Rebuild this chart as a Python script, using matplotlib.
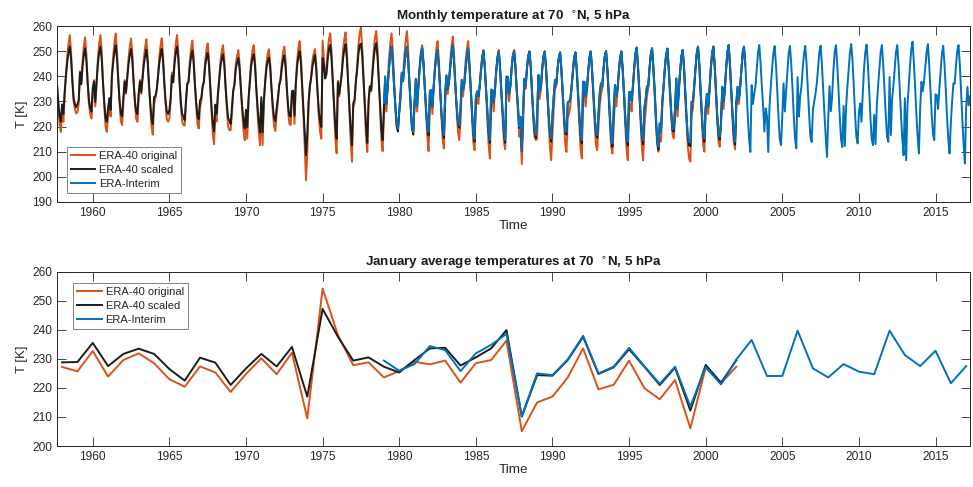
import numpy as np
import matplotlib
matplotlib.use("Agg")
import matplotlib.pyplot as plt

plt.rcParams['font.family'] = ['Liberation Sans', 'DejaVu Sans']

# ---------------- data ----------------
# ERA-40 original, monthly, Sep 1957 .. Aug 2002 (one row per year)
era40_orig_start = (1957, 9)
era40_orig = [
    [237.2, 228.0, 221.0, 217.9],
    [227.2, 221.9, 233.0, 241.0, 248.0, 253.0, 256.4, 250.0, 239.0, 230.0, 227.0, 225.2],
    [225.7, 229.0, 242.0, 237.0, 246.0, 252.0, 255.5, 249.0, 238.0, 229.0, 225.0, 223.2],
    [232.7, 238.5, 228.0, 238.0, 247.0, 253.0, 256.4, 250.0, 238.0, 228.0, 220.0, 217.9],
    [223.9, 230.0, 224.0, 241.0, 248.0, 253.5, 257.0, 250.0, 239.0, 229.0, 222.0, 220.6],
    [229.6, 238.5, 233.0, 240.0, 247.0, 252.0, 255.1, 249.0, 238.0, 229.0, 223.0, 221.9],
    [231.9, 238.5, 233.0, 240.0, 247.0, 251.5, 254.7, 248.0, 237.0, 228.0, 220.0, 216.8],
    [228.5, 231.0, 234.0, 240.0, 247.0, 252.0, 255.1, 249.0, 238.0, 229.0, 223.0, 221.9],
    [223.0, 230.0, 241.5, 238.0, 247.0, 253.0, 256.4, 250.0, 238.0, 228.0, 222.0, 220.6],
    [220.4, 229.0, 237.2, 238.0, 246.0, 251.0, 254.2, 248.0, 237.0, 228.0, 221.0, 219.2],
    [227.4, 230.0, 235.8, 238.0, 246.0, 250.5, 253.1, 247.0, 236.0, 226.0, 217.0, 213.0],
    [225.3, 222.0, 232.0, 239.0, 246.0, 250.0, 252.4, 247.0, 236.0, 227.0, 220.0, 218.6],
    [218.6, 225.2, 233.8, 237.0, 245.0, 248.0, 250.4, 245.0, 235.0, 226.0, 219.0, 214.6],
    [224.8, 215.2, 230.0, 238.0, 246.0, 250.0, 252.4, 247.0, 236.0, 226.0, 218.0, 212.6],
    [230.2, 212.6, 229.0, 238.0, 245.0, 249.0, 250.8, 245.0, 235.0, 226.0, 220.0, 218.2],
    [224.7, 230.0, 236.5, 239.0, 245.0, 249.5, 251.8, 246.0, 235.0, 226.0, 221.0, 220.6],
    [232.1, 233.8, 221.0, 237.0, 246.0, 251.0, 254.0, 248.0, 236.0, 224.0, 212.0, 198.6],
    [209.5, 228.0, 236.0, 240.0, 246.0, 249.0, 250.8, 245.0, 234.0, 224.0, 218.0, 215.2],
    [254.2, 247.0, 240.0, 242.0, 250.0, 255.0, 257.1, 250.0, 238.0, 226.0, 215.0, 209.3],
    [238.2, 232.0, 237.0, 242.0, 250.0, 255.0, 257.5, 250.0, 238.0, 226.0, 214.0, 206.0],
    [227.8, 229.2, 237.8, 244.0, 252.0, 257.0, 259.4, 252.0, 240.0, 227.0, 216.0, 209.9],
    [228.8, 236.0, 234.0, 242.0, 250.0, 255.5, 258.0, 251.0, 239.0, 226.0, 215.0, 210.2],
    [223.6, 236.0, 226.0, 238.0, 247.0, 253.0, 257.1, 250.0, 238.0, 227.0, 220.0, 218.5],
    [225.8, 230.0, 240.0, 240.0, 248.0, 254.0, 258.0, 251.0, 238.0, 227.0, 219.0, 217.9],
    [229.0, 237.0, 226.0, 237.0, 244.0, 250.0, 252.4, 246.0, 236.0, 226.0, 216.0, 210.2],
    [228.1, 232.0, 225.0, 236.0, 244.0, 250.5, 254.0, 247.0, 236.0, 225.0, 215.0, 211.3],
    [229.4, 238.0, 233.0, 238.0, 246.0, 252.0, 255.8, 248.0, 237.0, 226.0, 218.0, 214.6],
    [221.8, 236.0, 232.0, 238.0, 246.0, 251.0, 254.0, 246.0, 235.0, 224.0, 214.0, 210.6],
    [228.5, 231.0, 229.0, 236.0, 243.0, 248.0, 250.5, 244.0, 234.0, 223.0, 213.0, 207.3],
    [229.6, 231.0, 226.0, 235.0, 243.0, 248.0, 250.5, 243.0, 233.0, 223.0, 214.0, 211.0],
    [236.3, 237.0, 230.0, 236.0, 243.0, 248.5, 250.5, 244.0, 234.0, 225.0, 216.0, 218.0],
    [205.1, 221.0, 236.0, 235.0, 243.0, 248.0, 250.0, 243.0, 233.0, 223.0, 216.0, 214.6],
    [215.0, 236.0, 231.0, 235.0, 243.0, 248.0, 250.0, 243.0, 232.0, 222.0, 212.0, 206.6],
    [217.0, 227.0, 235.0, 236.0, 243.0, 247.5, 249.5, 242.0, 232.0, 222.0, 213.0, 209.9],
    [223.6, 225.0, 228.0, 235.0, 242.0, 247.5, 249.5, 242.0, 232.0, 221.0, 211.0, 207.3],
    [233.6, 233.0, 228.0, 234.0, 242.0, 247.5, 250.0, 242.0, 232.0, 222.0, 213.0, 210.6],
    [219.5, 228.0, 233.0, 235.0, 243.0, 248.0, 250.0, 242.0, 232.0, 221.0, 212.0, 209.3],
    [221.1, 231.0, 228.0, 234.0, 242.0, 247.5, 250.0, 242.0, 232.0, 221.0, 211.0, 206.6],
    [229.4, 229.0, 226.0, 235.0, 243.0, 249.0, 251.4, 243.0, 233.0, 222.0, 212.0, 206.6],
    [219.9, 226.0, 232.0, 235.0, 243.0, 248.5, 251.1, 243.0, 233.0, 222.0, 213.0, 210.0],
    [216.1, 214.0, 227.0, 235.0, 243.0, 248.5, 251.0, 243.0, 233.0, 224.0, 217.0, 215.3],
    [222.7, 236.0, 224.0, 234.0, 242.0, 248.0, 250.4, 243.0, 232.0, 222.0, 212.0, 207.3],
    [206.1, 225.0, 227.0, 235.0, 243.0, 249.0, 251.8, 244.0, 233.0, 223.0, 213.0, 210.0],
    [227.0, 230.0, 225.0, 234.0, 243.0, 249.0, 251.8, 244.0, 233.0, 223.0, 214.0, 212.0],
    [221.6, 233.0, 227.0, 234.0, 243.0, 249.5, 252.4, 244.0, 233.0, 223.0, 214.0, 211.0],
    [227.3, 233.0, 229.0, 235.0, 243.0, 249.0, 251.0, 244.0],
]

# ERA-40 scaled, monthly, Sep 1957 .. Aug 2002
era40_scaled_start = (1957, 9)
era40_scaled = [
    [236.9, 229.8, 224.3, 221.9],
    [228.8, 225.0, 233.7, 239.9, 245.4, 249.3, 251.9, 246.9, 238.3, 231.3, 229.0, 227.6],
    [228.9, 230.5, 241.5, 236.8, 243.8, 248.5, 251.2, 246.1, 237.6, 230.5, 227.4, 226.0],
    [235.5, 237.9, 229.8, 237.6, 244.6, 249.3, 251.9, 246.9, 237.6, 229.8, 223.5, 221.9],
    [227.5, 231.3, 226.6, 239.9, 245.4, 249.7, 252.4, 246.9, 238.3, 230.5, 225.1, 224.0],
    [231.7, 237.9, 233.7, 239.1, 244.6, 248.5, 250.9, 246.1, 237.6, 230.5, 225.9, 225.0],
    [233.5, 237.9, 233.7, 239.1, 244.6, 248.1, 250.6, 245.4, 236.8, 229.8, 223.5, 221.0],
    [231.7, 232.1, 234.4, 239.1, 244.6, 248.5, 250.9, 246.1, 237.6, 230.5, 225.9, 225.0],
    [226.5, 231.3, 240.3, 237.6, 244.6, 249.3, 251.9, 246.9, 237.6, 229.8, 225.1, 224.0],
    [222.5, 230.5, 236.9, 237.6, 243.8, 247.7, 250.2, 245.4, 236.8, 229.8, 224.3, 222.9],
    [230.4, 231.3, 235.8, 237.6, 243.8, 247.3, 249.3, 244.6, 236.0, 228.2, 221.2, 218.1],
    [228.7, 225.1, 232.9, 238.3, 243.8, 246.9, 248.8, 244.6, 236.0, 229.0, 223.5, 222.4],
    [221.0, 227.6, 234.3, 236.8, 243.0, 245.4, 247.2, 243.0, 235.2, 228.2, 222.7, 219.3],
    [226.7, 219.8, 231.3, 237.6, 243.8, 246.9, 248.8, 244.6, 236.0, 228.2, 222.0, 217.7],
    [231.7, 217.7, 230.5, 237.6, 243.0, 246.1, 247.5, 243.0, 235.2, 228.2, 223.5, 222.1],
    [227.4, 231.3, 236.4, 238.3, 243.0, 246.5, 248.3, 243.8, 235.2, 228.2, 224.3, 224.0],
    [234.1, 234.3, 224.3, 236.8, 243.8, 247.7, 250.0, 245.4, 236.0, 226.6, 217.3, 208.6],
    [217.0, 229.8, 236.0, 239.1, 243.8, 246.1, 248.5, 243.0, 234.4, 226.6, 222.0, 219.8],
    [247.2, 244.6, 239.1, 240.7, 246.9, 250.8, 252.5, 246.9, 237.6, 228.2, 219.6, 215.2],
    [237.6, 232.9, 236.8, 240.7, 246.9, 250.8, 252.8, 246.9, 237.6, 228.2, 218.8, 212.6],
    [229.4, 230.7, 237.4, 242.2, 248.5, 252.4, 253.0, 248.5, 239.1, 229.0, 220.4, 213.5],
    [230.5, 236.0, 234.4, 240.7, 246.9, 251.2, 253.2, 247.7, 238.3, 228.2, 219.6, 214.6],
    [227.3, 239.5, 229.0, 236.0, 243.0, 249.0, 251.8, 245.0, 236.0, 228.0, 220.5, 218.0],
    [225.3, 233.0, 241.0, 238.0, 244.0, 249.0, 251.5, 246.0, 237.0, 228.0, 219.5, 216.8],
    [229.6, 239.0, 228.5, 236.0, 243.0, 248.5, 251.0, 245.0, 236.0, 227.0, 219.5, 216.5],
    [233.6, 234.5, 228.0, 236.0, 243.0, 248.0, 250.4, 244.0, 235.0, 226.0, 218.5, 215.5],
    [233.8, 240.0, 235.0, 238.0, 244.0, 249.5, 252.4, 245.0, 236.0, 228.0, 221.5, 219.5],
    [227.7, 238.5, 234.5, 237.0, 243.0, 248.0, 251.0, 244.0, 235.0, 226.0, 217.5, 214.0],
    [230.5, 234.0, 232.0, 236.0, 242.0, 247.5, 250.0, 244.0, 235.0, 226.0, 217.5, 213.5],
    [233.6, 234.5, 229.5, 235.0, 242.0, 247.5, 249.8, 243.0, 234.0, 226.0, 217.5, 213.5],
    [239.9, 239.8, 233.0, 236.0, 243.0, 248.0, 250.0, 244.0, 235.0, 228.0, 219.5, 223.5],
    [210.1, 226.0, 239.0, 236.0, 243.0, 248.0, 249.8, 244.0, 234.0, 225.0, 217.5, 215.5],
    [224.4, 240.5, 234.0, 236.0, 243.0, 248.0, 249.8, 243.0, 234.0, 225.0, 217.5, 214.0],
    [224.2, 232.0, 238.5, 237.0, 243.0, 247.5, 249.5, 243.0, 234.0, 225.0, 217.5, 216.8],
    [229.6, 229.9, 231.0, 236.0, 242.0, 247.5, 249.5, 243.0, 234.0, 225.0, 216.5, 213.3],
    [237.6, 237.8, 232.0, 235.0, 242.0, 247.5, 249.8, 243.0, 234.0, 225.0, 217.5, 215.5],
    [224.8, 233.0, 237.2, 236.0, 243.0, 248.0, 250.0, 243.0, 234.0, 224.0, 215.5, 212.0],
    [227.1, 236.5, 232.0, 235.0, 242.0, 247.5, 249.8, 243.0, 234.0, 224.0, 215.5, 212.5],
    [233.3, 233.8, 230.0, 236.0, 243.0, 249.0, 251.4, 244.0, 235.0, 225.0, 216.5, 213.0],
    [227.3, 231.0, 236.0, 236.0, 243.0, 248.5, 251.1, 244.0, 235.0, 224.0, 214.5, 210.8],
    [221.0, 218.0, 230.0, 236.0, 243.0, 248.5, 251.0, 244.0, 235.0, 226.0, 218.5, 218.0],
    [227.0, 239.1, 227.0, 235.0, 242.0, 248.0, 250.4, 244.0, 234.0, 224.0, 215.5, 212.5],
    [212.2, 229.9, 230.0, 236.0, 243.0, 249.0, 251.8, 245.0, 235.0, 225.0, 216.5, 214.0],
    [227.9, 233.0, 228.0, 235.0, 243.0, 249.0, 251.8, 245.0, 235.0, 225.0, 216.5, 214.8],
    [221.8, 235.8, 230.0, 235.0, 243.0, 249.5, 252.4, 245.0, 235.0, 225.0, 216.5, 212.8],
    [229.5, 235.8, 231.0, 236.0, 243.0, 249.5, 251.8, 245.0],
]

# ERA-Interim, monthly, Jan 1979 .. Apr 2017
era_interim_start = (1979, 1)
era_interim = [
    [229.4, 240.0, 229.0, 236.0, 243.0, 249.0, 251.8, 245.0, 236.0, 228.0, 221.0, 219.2],
    [225.9, 233.0, 241.5, 238.0, 244.0, 249.0, 251.8, 246.0, 237.0, 228.0, 220.0, 217.9],
    [228.2, 239.0, 228.0, 236.0, 243.0, 248.5, 251.1, 245.0, 236.0, 227.0, 220.0, 217.9],
    [234.4, 234.5, 228.0, 236.0, 243.0, 248.0, 250.4, 244.0, 235.0, 226.0, 219.0, 216.6],
    [233.0, 240.5, 235.2, 238.0, 244.0, 249.5, 252.4, 245.0, 236.0, 228.0, 222.0, 220.6],
    [225.8, 238.5, 234.5, 237.0, 243.0, 248.0, 251.0, 244.0, 235.0, 226.0, 218.0, 215.2],
    [231.9, 234.0, 232.0, 236.0, 242.0, 247.5, 250.0, 244.0, 235.0, 226.0, 218.0, 214.6],
    [234.8, 234.5, 229.5, 235.0, 242.0, 247.5, 249.8, 243.0, 234.0, 226.0, 218.0, 214.6],
    [238.6, 239.8, 233.0, 236.0, 243.0, 248.0, 250.0, 244.0, 235.0, 228.0, 220.0, 224.0],
    [210.3, 226.0, 239.0, 236.0, 243.0, 248.0, 249.8, 244.0, 234.0, 225.0, 218.0, 216.6],
    [225.0, 240.5, 234.0, 236.0, 243.0, 248.0, 249.8, 243.0, 234.0, 225.0, 218.0, 215.2],
    [224.4, 232.0, 238.5, 237.0, 243.0, 247.5, 249.5, 243.0, 234.0, 225.0, 218.0, 217.9],
    [229.8, 229.9, 231.0, 236.0, 242.0, 247.5, 249.5, 243.0, 234.0, 225.0, 217.0, 214.6],
    [237.9, 237.8, 232.0, 235.0, 242.0, 247.5, 249.8, 243.0, 234.0, 225.0, 218.0, 216.6],
    [225.0, 233.0, 237.2, 236.0, 243.0, 248.0, 250.0, 243.0, 234.0, 224.0, 216.0, 213.3],
    [227.3, 236.5, 232.0, 235.0, 242.0, 247.5, 249.8, 243.0, 234.0, 224.0, 216.0, 213.9],
    [233.8, 233.8, 230.0, 236.0, 243.0, 249.0, 251.4, 244.0, 235.0, 225.0, 217.0, 214.6],
    [227.5, 231.0, 236.0, 236.0, 243.0, 248.5, 251.1, 244.0, 235.0, 224.0, 215.0, 212.0],
    [221.4, 218.0, 230.0, 236.0, 243.0, 248.5, 251.0, 244.0, 235.0, 226.0, 219.0, 219.2],
    [227.3, 239.1, 227.0, 235.0, 242.0, 248.0, 250.4, 244.0, 234.0, 224.0, 216.0, 213.9],
    [213.6, 229.9, 230.0, 236.0, 243.0, 249.0, 251.8, 245.0, 235.0, 225.0, 217.0, 215.2],
    [227.2, 233.0, 228.0, 235.0, 243.0, 249.0, 251.8, 245.0, 235.0, 225.0, 217.0, 215.9],
    [221.2, 235.8, 230.0, 235.0, 243.0, 249.5, 252.4, 245.0, 235.0, 225.0, 217.0, 213.9],
    [229.8, 235.8, 231.0, 236.0, 243.0, 249.5, 251.8, 245.0, 235.0, 224.0, 215.0, 209.9],
    [236.5, 229.0, 233.0, 236.0, 243.0, 249.5, 252.4, 245.0, 236.0, 228.0, 218.0, 227.2],
    [224.1, 209.9, 228.0, 236.0, 243.0, 249.0, 252.0, 245.0, 235.0, 224.0, 215.0, 212.6],
    [224.1, 237.2, 226.0, 234.0, 242.0, 249.0, 252.1, 245.0, 235.0, 224.0, 215.0, 211.3],
    [239.7, 224.0, 232.0, 236.0, 243.0, 249.0, 252.1, 245.0, 235.0, 225.0, 216.0, 213.9],
    [226.7, 230.0, 233.0, 237.0, 243.0, 249.5, 252.2, 245.0, 235.0, 225.0, 216.0, 207.9],
    [223.6, 236.1, 226.1, 231.8, 242.0, 249.5, 252.4, 245.0, 235.0, 224.0, 215.0, 211.9],
    [228.2, 212.3, 228.0, 236.0, 243.0, 249.5, 252.8, 246.0, 236.0, 225.0, 216.0, 213.3],
    [225.6, 229.2, 221.9, 233.0, 243.0, 249.5, 252.6, 245.0, 235.0, 224.0, 215.0, 212.6],
    [224.7, 213.0, 228.0, 236.0, 243.0, 249.5, 252.4, 245.0, 235.0, 225.0, 216.0, 213.9],
    [239.7, 216.6, 231.0, 236.0, 243.0, 249.5, 252.4, 245.0, 235.0, 224.0, 215.0, 208.6],
    [231.3, 206.6, 228.0, 236.0, 244.0, 250.5, 253.8, 246.0, 236.0, 225.0, 216.0, 209.3],
    [227.5, 237.8, 234.0, 238.0, 244.0, 249.5, 252.8, 245.0, 235.0, 225.0, 217.0, 214.6],
    [232.8, 232.5, 227.0, 235.0, 242.0, 249.0, 252.1, 245.0, 235.0, 224.0, 215.0, 209.3],
    [221.6, 230.0, 237.2, 237.0, 244.0, 250.0, 252.4, 245.0, 234.0, 223.0, 213.0, 205.3],
    [227.5, 235.8, 228.5, 232.0],
]

# January averages (bottom panel)
jan_years_era40 = list(range(1958, 2003))
jan_era40_orig = [227.2, 225.7, 232.7, 223.9, 229.6, 231.9, 228.5, 223.0, 220.4, 227.4,
                  225.3, 218.6, 224.8, 230.2, 224.7, 232.1, 209.5, 254.2, 238.2, 227.8,
                  228.8, 223.6, 225.8, 229.0, 228.1, 229.4, 221.8, 228.5, 229.6, 236.3,
                  205.1, 215.0, 217.0, 223.6, 233.6, 219.5, 221.1, 229.4, 219.9, 216.1,
                  222.7, 206.1, 227.0, 221.6, 227.3]
jan_era40_scaled = [228.8, 228.9, 235.5, 227.5, 231.7, 233.5, 231.7, 226.5, 222.5, 230.4,
                    228.7, 221.0, 226.7, 231.7, 227.4, 234.1, 217.0, 247.2, 237.6, 229.4,
                    230.5, 227.3, 225.3, 229.6, 233.6, 233.8, 227.7, 230.5, 233.6, 239.9,
                    210.1, 224.4, 224.2, 229.6, 237.6, 224.8, 227.1, 233.3, 227.3, 221.0,
                    227.0, 212.2, 227.9, 221.8, 229.5]
jan_years_interim = list(range(1979, 2018))
jan_era_interim = [229.4, 225.9, 228.2, 234.4, 233.0, 225.8, 231.9, 234.8, 238.6, 210.3,
                   225.0, 224.4, 229.8, 237.9, 225.0, 227.3, 233.8, 227.5, 221.4, 227.3,
                   213.6, 227.2, 221.2, 229.8, 236.5, 224.1, 224.1, 239.7, 226.7, 223.6,
                   228.2, 225.6, 224.7, 239.7, 231.3, 227.5, 232.8, 221.6, 227.5]

series_labels = ['ERA-40 original', 'ERA-40 scaled', 'ERA-Interim']
x_ticks = [1960, 1965, 1970, 1975, 1980, 1985, 1990, 1995, 2000, 2005, 2010, 2015]

# ---------------- helpers ----------------
def flatten_monthly(rows, start):
    vals = np.concatenate([np.asarray(r, float) for r in rows])
    y0, m0 = start
    t = y0 + (m0 - 1 + np.arange(vals.size)) / 12.0
    return t, vals

C_ORANGE = '#D95319'
C_BLACK = '#1c1c1c'
C_BLUE = '#0072BD'
AX_COL = '#262626'
XLIM = (1957 + 8 / 12.0, 2017 + 3 / 12.0)

fig = plt.figure(figsize=(9.73, 4.87), dpi=100)
W, H = 973.0, 487.0
ax1 = fig.add_axes([57 / W, 1 - 202 / H, 913 / W, 176 / H])
ax2 = fig.add_axes([57 / W, 1 - 446 / H, 913 / W, 174.3 / H])

lw = 1.4
t_o, v_o = flatten_monthly(era40_orig, era40_orig_start)
t_s, v_s = flatten_monthly(era40_scaled, era40_scaled_start)
t_i, v_i = flatten_monthly(era_interim, era_interim_start)
ax1.plot(t_o, v_o, color=C_ORANGE, lw=lw, label=series_labels[0])
ax1.plot(t_s, v_s, color=C_BLACK, lw=lw, label=series_labels[1])
ax1.plot(t_i, v_i, color=C_BLUE, lw=lw, label=series_labels[2])

ax2.plot(jan_years_era40, jan_era40_orig, color=C_ORANGE, lw=lw, label=series_labels[0])
ax2.plot(jan_years_era40, jan_era40_scaled, color=C_BLACK, lw=lw, label=series_labels[1])
ax2.plot(jan_years_interim, jan_era_interim, color=C_BLUE, lw=lw, label=series_labels[2])

ax1.set_ylim(190, 260)
ax1.set_yticks(range(190, 261, 10))
ax2.set_ylim(200, 260)
ax2.set_yticks(range(200, 261, 10))

titles = ['Monthly temperature at 70  $^{\\circ}$N, 5 hPa',
          'January average temperatures at 70  $^{\\circ}$N, 5 hPa']
for ax, title in zip((ax1, ax2), titles):
    ax.set_xlim(*XLIM)
    ax.set_xticks(x_ticks)
    ax.tick_params(direction='in', length=6.5, width=0.6, colors=AX_COL,
                   labelsize=8.6, top=True, right=True, pad=3.5)
    for sp in ax.spines.values():
        sp.set_color(AX_COL)
        sp.set_linewidth(0.7)
    ax.set_title(title, fontsize=9.6, fontweight='bold', color='#1a1a1a', pad=4)
    ax.set_xlabel('Time', fontsize=9.7, color=AX_COL, labelpad=1)
    ax.set_ylabel('T [K]', fontsize=9.4, color=AX_COL, labelpad=3)

leg_kw = dict(fontsize=8.0, frameon=True, fancybox=False, framealpha=1,
              edgecolor='#6e6e6e', borderaxespad=0, handlelength=2.2,
              handletextpad=0.35, labelspacing=0.38, borderpad=0.35)
l1 = ax1.legend(loc='lower left', bbox_to_anchor=(0.0106, 0.051), **leg_kw)
l2 = ax2.legend(loc='upper left', bbox_to_anchor=(0.0179, 0.937), **leg_kw)
for lg in (l1, l2):
    lg.get_frame().set_linewidth(0.6)
    for txt in lg.get_texts():
        txt.set_color(AX_COL)

fig.savefig('out.png', dpi=100)
